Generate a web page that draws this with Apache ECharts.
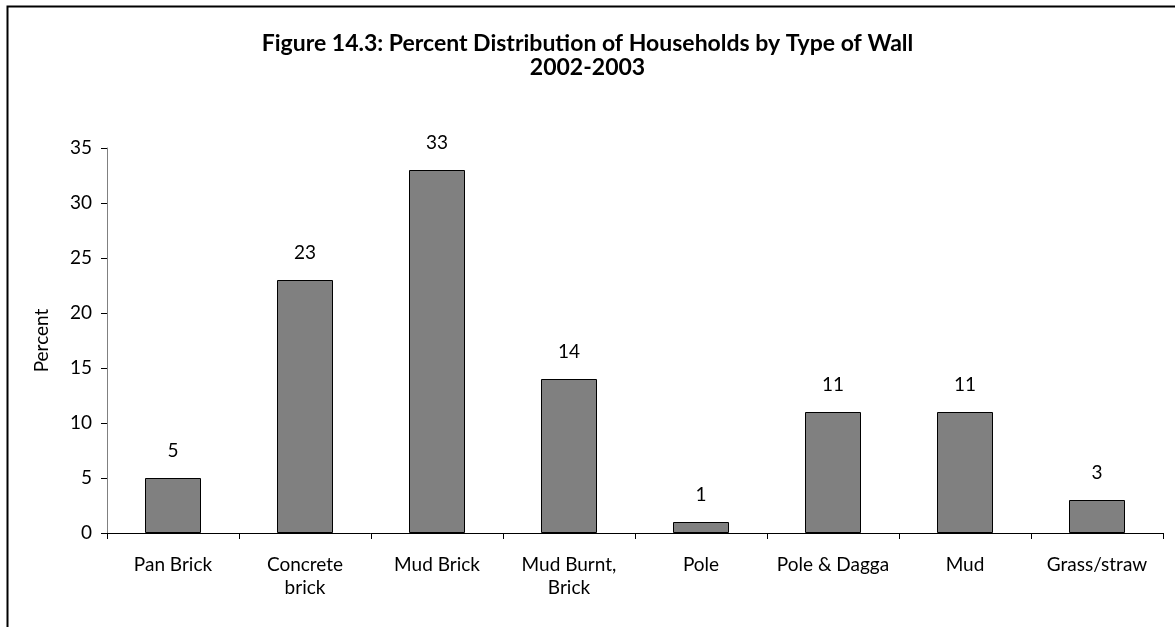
<!DOCTYPE html>
<html>
<head>
<meta charset="utf-8">
<style>
  html, body { margin: 0; padding: 0; background: #fff; }
  #main { width: 1175px; height: 627px; }
</style>
<script src="https://cdn.jsdelivr.net/npm/echarts@6/dist/echarts.min.js"></script>
</head>
<body>
<div id="main"></div>
<script>
// data
const categories = ['Pan Brick', 'Concrete\nbrick', 'Mud Brick', 'Mud Burnt,\nBrick', 'Pole', 'Pole & Dagga', 'Mud', 'Grass/straw'];
const percents = [5, 23, 33, 14, 1, 11, 11, 3];
const yTicks = { min: 0, max: 35, interval: 5 };

const font = 'Lato, "Open Sans", sans-serif';

const myChart = echarts.init(document.getElementById('main'));

const option = {
  animation: false,
  textStyle: { fontFamily: font },
  graphic: [{
    type: 'rect',
    shape: { x: 7.5, y: 6.5, width: 1200, height: 700 },
    style: { fill: 'none', stroke: '#000', lineWidth: 2 },
    silent: true,
  }],
  title: {
    text: 'Figure 14.3: Percent Distribution of Households by Type of Wall\n2002-2003',
    left: 'center',
    top: 27,
    textStyle: {
      fontFamily: font,
      fontSize: 23,
      fontWeight: 'bold',
      color: '#000',
      lineHeight: 24,
    },
  },
  grid: { left: 107, right: 12, top: 148, bottom: 94, containLabel: false },
  xAxis: {
    type: 'category',
    data: categories,
    axisLine: { lineStyle: { color: '#000', width: 1 } },
    axisTick: { show: true, length: 6, lineStyle: { color: '#000' } },
    axisLabel: {
      color: '#000',
      fontSize: 19,
      lineHeight: 23,
      margin: 20,
      interval: 0,
      fontFamily: font,
    },
  },
  yAxis: {
    type: 'value',
    min: yTicks.min,
    max: yTicks.max,
    interval: yTicks.interval,
    name: 'Percent',
    nameLocation: 'middle',
    nameGap: 56,
    nameRotate: 90,
    nameTextStyle: { color: '#000', fontSize: 19, fontFamily: font },
    splitLine: { show: false },
    axisLine: { show: true, lineStyle: { color: '#808080', width: 1 } },
    axisTick: { show: true, length: 6, lineStyle: { color: '#000' } },
    axisLabel: { color: '#000', fontSize: 19, margin: 15, fontFamily: font },
  },
  series: [{
    type: 'bar',
    data: percents,
    barWidth: 56,
    itemStyle: { color: '#808080', borderColor: '#000', borderWidth: 1 },
    label: {
      show: true,
      position: 'top',
      distance: 18,
      color: '#000',
      fontSize: 19,
      fontFamily: font,
    },
  }],
};

myChart.setOption(option);
</script>
</body>
</html>
